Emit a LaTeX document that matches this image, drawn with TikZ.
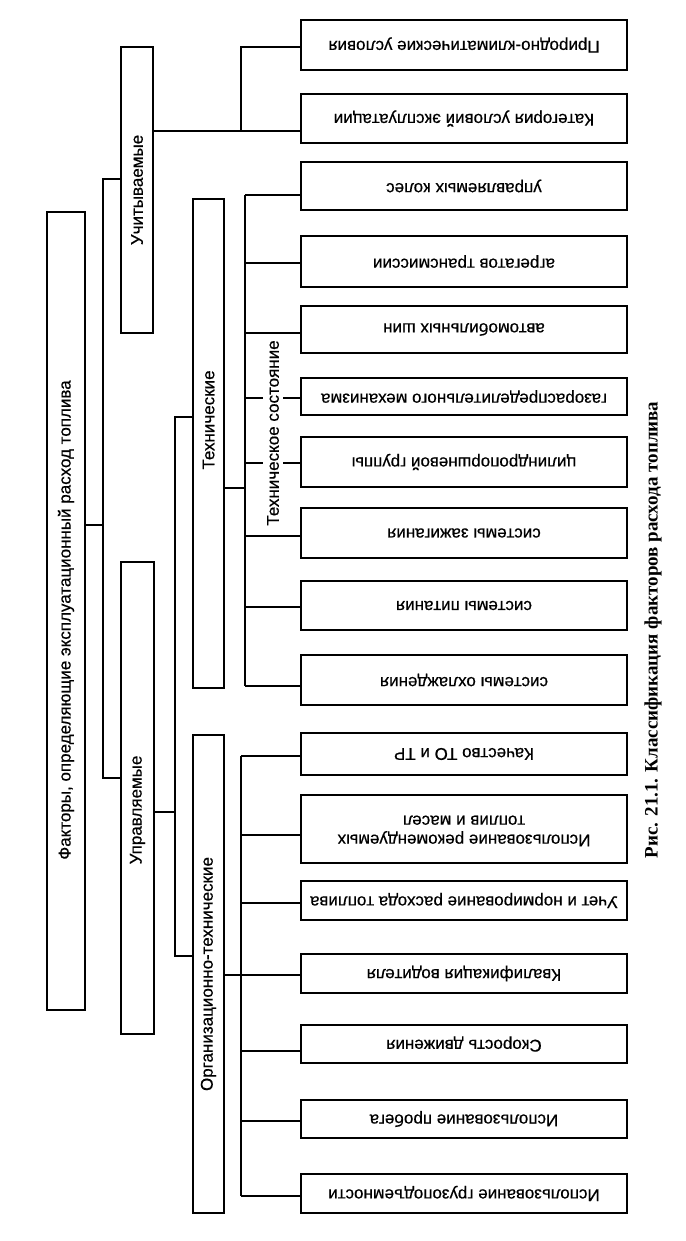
\documentclass[tikz,border=0pt]{standalone}
\usepackage{fontspec}
\usepackage{graphicx}
\setmainfont[FakeBold=0.5]{Liberation Sans}
\newfontfamily\capfont{Liberation Serif}
\begin{document}
\begin{tikzpicture}[x=1pt,y=-1pt,
  box/.style={draw, line width=2pt, inner sep=0pt, font=\fontsize{17}{19}\selectfont},
  lbl/.style={inner sep=0pt, font=\fontsize{17}{19}\selectfont},
  conn/.style={line width=1.8pt}]
\useasboundingbox (0,0) rectangle (685,1241);
\fill[white] (0,0) rectangle (685,1241);

% left column boxes
\node[box, minimum width=38, minimum height=798] (main) at (66,611) {};
\node[lbl, rotate=90] (maintxt) at (66,620) {Факторы, определяющие эксплуатационный расход топлива};
\node[box, minimum width=32, minimum height=286] (uch) at (137,190) {\rotatebox{90}{Учитываемые}};
\node[box, minimum width=33, minimum height=472] (upr) at (137.5,798) {};
\node[lbl, rotate=90] (uprtxt) at (137.5,810) {Управляемые};
\node[box, minimum width=31, minimum height=489] (tech) at (208.5,443.5) {};
\node[lbl, rotate=90] (techtxt) at (208.5,420) {Технические};
\node[box, minimum width=31, minimum height=478] (org) at (208.5,974) {\rotatebox{90}{Организационно-технические}};

% right boxes
\node[box, minimum width=326, minimum height=50] (b1) at (464,45) {\rotatebox{180}{Природно-климатические условия}};
\node[box, minimum width=326, minimum height=49] (b2) at (464,118.5) {\rotatebox{180}{Категория условий эксплуатации}};
\node[box, minimum width=326, minimum height=48] (b3) at (464,186) {\rotatebox{180}{управляемых колес}};
\node[box, minimum width=326, minimum height=51] (b4) at (464,261.5) {\rotatebox{180}{агрегатов трансмиссии}};
\node[box, minimum width=326, minimum height=47] (b5) at (464,329.5) {\rotatebox{180}{автомобильных шин}};
\node[box, minimum width=326, minimum height=37] (b6) at (464,396.5) {\rotatebox{180}{газораспределительного механизма}};
\node[box, minimum width=326, minimum height=50] (b7) at (464,462) {\rotatebox{180}{цилиндропоршневой группы}};
\node[box, minimum width=326, minimum height=50] (b8) at (464,533) {\rotatebox{180}{системы зажигания}};
\node[box, minimum width=326, minimum height=49] (b9) at (464,605.5) {\rotatebox{180}{системы питания}};
\node[box, minimum width=326, minimum height=50] (b10) at (464,680) {\rotatebox{180}{системы охлаждения}};
\node[box, minimum width=326, minimum height=42] (b11) at (464,754) {\rotatebox{180}{Качество ТО и ТР}};
\node[box, minimum width=326, minimum height=68] (b12) at (464,829) {\rotatebox{180}{\begin{tabular}{@{}c@{}}Использование рекомендуемых\\топлив и масел\end{tabular}}};
\node[box, minimum width=326, minimum height=39] (b13) at (464,900.5) {\rotatebox{180}{Учет и нормирование расхода топлива}};
\node[box, minimum width=326, minimum height=39] (b14) at (464,973.5) {\rotatebox{180}{Квалификация водителя}};
\node[box, minimum width=326, minimum height=38] (b15) at (464,1044) {\rotatebox{180}{Скорость движения}};
\node[box, minimum width=326, minimum height=38] (b16) at (464,1119) {\rotatebox{180}{Использование пробега}};
\node[box, minimum width=326, minimum height=39] (b17) at (464,1193.5) {\rotatebox{180}{Использование грузоподъемности}};

% spine 1
\coordinate (j0) at (103,525);
\coordinate (s1t) at (103,179);
\coordinate (s1b) at (103,778);
\draw[conn] (j0 -| main.east) -- (j0);
\draw[conn] (s1t -| uch.west) -- (s1t) -- (s1b) -- (s1b -| upr.west);

% accounted factors
\coordinate (u1) at (241,131);
\coordinate (u2) at (241,47);
\draw[conn] (u1 -| uch.east) -- (u1 -| b2.west);
\draw[conn] (u1) -- (u2) -- (u2 -| b1.west);

% spine 2
\coordinate (s2c) at (175,812);
\coordinate (s2t) at (175,417);
\coordinate (s2b) at (175,956);
\draw[conn] (s2c -| upr.east) -- (s2c);
\draw[conn] (s2t -| tech.west) -- (s2t) -- (s2b) -- (s2b -| org.west);

% technical
\coordinate (s3c) at (245,488);
\coordinate (s3t) at (245,195);
\coordinate (s3b) at (245,686);
\draw[conn] (s3c -| tech.east) -- (s3c);
\draw[conn] (s3t) -- (s3b);
\foreach \b/\y in {b3/195, b4/263, b5/333, b6/398, b7/463, b8/536, b9/607, b10/686}
  \draw[conn] (245,\y) -- (\b.west |- 0,\y);

% organisational
\coordinate (s4c) at (241,975);
\coordinate (s4t) at (241,756);
\coordinate (s4b) at (241,1196);
\draw[conn] (s4c -| org.east) -- (s4c);
\draw[conn] (s4t) -- (s4b);
\foreach \b/\y in {b11/756, b12/835, b13/903, b14/975, b15/1051, b16/1121, b17/1196}
  \draw[conn] (241,\y) -- (\b.west |- 0,\y);

\node[lbl, rotate=90, fill=white, inner xsep=0pt, inner ysep=4pt] (state) at (273,433) {Техническое состояние};

\node[rotate=90, inner sep=0pt, font=\capfont\bfseries\fontsize{19}{22}\selectfont] (cap) at (653,630) {Рис. 21.1. Классификация факторов расхода топлива};
\end{tikzpicture}
\end{document}
